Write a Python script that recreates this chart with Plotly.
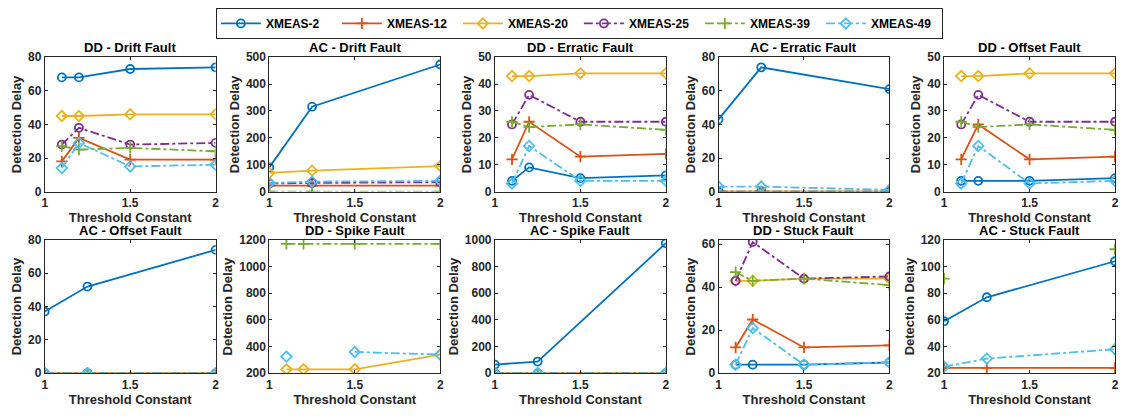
import plotly.graph_objects as go

series_names = ["XMEAS-2", "XMEAS-12", "XMEAS-20", "XMEAS-25", "XMEAS-39", "XMEAS-49"]
colors = ["#0072BD", "#D95319", "#EDB120", "#7E2F8E", "#77AC30", "#4DBEEE"]
symbols = ["circle-open", "cross-thin-open", "diamond-open", "circle-open", "cross-thin-open", "diamond-open"]
dashes = ["solid", "solid", "solid", "dashdot", "dashdot", "dashdot"]

x_dd = [1.1, 1.2, 1.5, 2]
x_ac = [1, 1.25, 2]

titles = ["DD - Drift Fault", "AC - Drift Fault", "DD - Erratic Fault", "AC - Erratic Fault", "DD - Offset Fault",
          "AC - Offset Fault", "DD - Spike Fault", "AC - Spike Fault", "DD - Stuck Fault", "AC - Stuck Fault"]

dd_drift = [[68, 68, 73, 74], [18, 32, 19, 19], [45, 45, 46, 46], [28, 38, 28, 29], [27, 25, 26, 24], [14, 29, 15, 16]]
ac_drift = [[90, 316, 473], [22, 22, 22], [70, 78, 95], [30, 32, 35], [0, 0, 0], [32, 37, 40]]
dd_erratic = [[4, 9, 5, 6], [12, 26, 13, 14], [43, 43, 44, 44], [25, 36, 26, 26], [26, 24, 25, 23], [3, 17, 4, 4]]
ac_erratic = [[43, 74, 61], [0, 0, 0], [0, 0, 0], [0, 0, 0], [0, 0, 0], [3, 3, 1]]
dd_offset = [[4, 4, 4, 5], [12, 25, 12, 13], [43, 43, 44, 44], [25, 36, 26, 26], [26, 24, 25, 23], [3, 17, 3, 4]]
ac_offset = [[37, 52, 74], [0, 0, 0], [0, 0, 0], [0, 0, 0], [0, 0, 0], [0, 0, 0]]
dd_spike = [[None] * 4, [None] * 4, [230, 230, 230, 340], [None] * 4, [1170, 1170, 1170, 1170], [325, None, 360, 340]]
ac_spike = [[65, 88, 975], [0, 0, 0], [0, 0, 0], [0, 0, 0], [0, 0, 0], [0, 0, 0]]
dd_stuck = [[4, 4, 4, 5], [12, 25, 12, 13], [43, 43, 44, 44], [43, 61, 44, 45], [47, 43, 44, 41], [4, 21, 4, 5]]
ac_stuck = [[59, 77, 104], [24, 24, 24], [None] * 3, [None] * 3, [91, None, 113], [25, 31, 38]]

panels = [dd_drift, ac_drift, dd_erratic, ac_erratic, dd_offset, ac_offset, dd_spike, ac_spike, dd_stuck, ac_stuck]
y_ranges = [[0, 80], [0, 500], [0, 50], [0, 80], [0, 50], [0, 80], [200, 1200], [0, 1000], [0, 62], [20, 120]]
y_ticks = [[0, 20, 40, 60, 80], [0, 100, 200, 300, 400, 500], [0, 10, 20, 30, 40, 50], [0, 20, 40, 60, 80],
           [0, 10, 20, 30, 40, 50], [0, 20, 40, 60, 80], [200, 400, 600, 800, 1000, 1200],
           [0, 200, 400, 600, 800, 1000], [0, 20, 40, 60], [20, 40, 60, 80, 100, 120]]

W, H = 1124, 417
lefts = [42, 268, 495, 720, 947]
pw = 172
rows_px = [(52, 191), (241, 379)]
txt = "#262626"
FONT = "Liberation Sans"

fig = go.Figure()
layout = {}
annotations = []
for i, data in enumerate(panels):
    r, c = divmod(i, 5)
    xs = x_dd if i % 2 == 0 else x_ac
    ax = "" if i == 0 else str(i + 1)
    x0 = lefts[c] / W
    x1 = (lefts[c] + pw) / W
    yt, yb = rows_px[r]
    y0 = 1 - yb / H
    y1 = 1 - yt / H
    for k, ys in enumerate(data):
        fig.add_trace(go.Scatter(
            x=xs, y=ys, mode="lines+markers", name=series_names[k],
            legendgroup=series_names[k], showlegend=(i == 0),
            line=dict(color=colors[k], width=1.8, dash=dashes[k]),
            marker=dict(symbol=symbols[k], size=8, color=colors[k], line=dict(width=1.8, color=colors[k])),
            xaxis="x" + ax, yaxis="y" + ax, connectgaps=False,
        ))
    axis_common = dict(showline=True, linecolor=txt, linewidth=1, mirror="ticks", ticks="inside",
                       ticklen=3, tickcolor=txt, showgrid=False, zeroline=False,
                       tickfont=dict(family=FONT, size=12, color=txt, weight="bold"))
    layout["xaxis" + ax] = dict(axis_common, domain=[x0, x1], range=[1, 2], tickvals=[1, 1.5, 2],
                                ticktext=["1", "1.5", "2"], anchor="y" + ax,
                                title=dict(text="Threshold Constant", standoff=0,
                                           font=dict(family=FONT, size=13, color=txt, weight="bold")))
    layout["yaxis" + ax] = dict(axis_common, domain=[y0, y1], range=y_ranges[i], tickvals=y_ticks[i],
                                anchor="x" + ax,
                                title=dict(text="Detection Delay", standoff=3,
                                           font=dict(family=FONT, size=13, color=txt, weight="bold")))
    annotations.append(dict(text=titles[i], x=(x0 + x1) / 2, y=y1, xref="paper", yref="paper",
                            xanchor="center", yanchor="bottom", yshift=0, showarrow=False,
                            font=dict(family=FONT, size=13, color="#000000", weight="bold")))

fig.update_layout(**layout)
fig.update_layout(
    width=W, height=H, margin=dict(l=0, r=0, t=0, b=0),
    paper_bgcolor="white", plot_bgcolor="white",
    annotations=annotations,
    legend=dict(orientation="h", x=580 / W, xanchor="center", y=1 - 1 / H, yanchor="top",
                bordercolor=txt, borderwidth=1, bgcolor="white",
                font=dict(family=FONT, size=12, color="#000000", weight="bold"),
                itemwidth=40, entrywidth=66, tracegroupgap=0),
    showlegend=True,
)
fig.write_html("out.html", config={"displayModeBar": False},
               post_script="document.body.style.margin='0';document.body.style.overflow='hidden';")
